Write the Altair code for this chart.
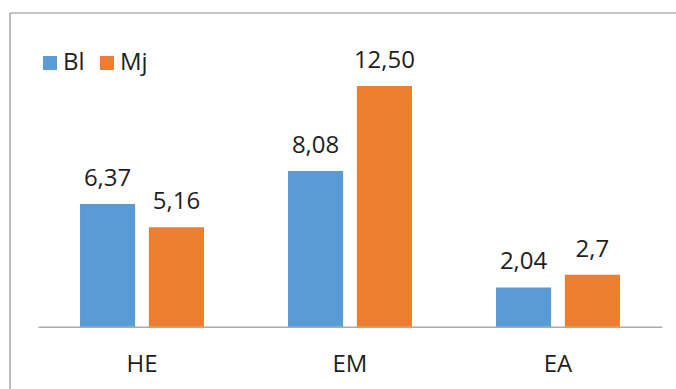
import altair as alt
import pandas as pd

categories = ["HE", "EM", "EA"]
series = ["Bl", "Mj"]
bl_values = [6.37, 8.08, 2.04]
mj_values = [5.16, 12.50, 2.70]
bl_labels = ["6,37", "8,08", "2,04"]
mj_labels = ["5,16", "12,50", "2,7"]
colors = ["#5B9BD5", "#ED7D31"]

rows = []
for c, v, l in zip(categories, bl_values, bl_labels):
    rows.append({"cat": c, "series": "Bl", "value": v, "label": l})
for c, v, l in zip(categories, mj_values, mj_labels):
    rows.append({"cat": c, "series": "Mj", "value": v, "label": l})
df = pd.DataFrame(rows)

FONT = "Open Sans"
FS = 24

x = alt.X("cat:N", sort=categories, title=None,
          scale=alt.Scale(paddingInner=0.404, paddingOuter=0.202),
          axis=alt.Axis(labelAngle=0, ticks=False, domainColor="#ABABAB", domainWidth=1.5,
                        labelFont=FONT, labelFontSize=FS, labelColor="#1E1E1E",
                        labelPadding=26, grid=False))
xo = alt.XOffset("series:N", sort=series, scale=alt.Scale(paddingInner=0.2, paddingOuter=0))
y = alt.Y("value:Q", scale=alt.Scale(domain=[0, 14]), axis=None)

base = alt.Chart(df).encode(x=x, xOffset=xo, y=y)

bars = base.mark_bar().encode(
    color=alt.Color("series:N", sort=series,
                    scale=alt.Scale(domain=series, range=colors),
                    legend=alt.Legend(title=None, orient="none", direction="horizontal",
                                      legendX=0, legendY=-6, symbolType="square",
                                      symbolSize=196, symbolStrokeWidth=0,
                                      labelFont=FONT, labelFontSize=FS, labelColor="#1E1E1E",
                                      labelOffset=1, columnPadding=10))
)

labels = base.mark_text(font=FONT, fontSize=FS, color="#1E1E1E", baseline="alphabetic", dy=-18).encode(
    text="label:N"
)

border_top = alt.Chart(alt.Data(values=[{}])).mark_rule(color="#8E8E8E", strokeWidth=1.2).encode(
    x=alt.value(-28), x2=alt.value(700), y=alt.value(-44)
)
border_left = alt.Chart(alt.Data(values=[{}])).mark_rule(color="#8E8E8E", strokeWidth=1.2).encode(
    x=alt.value(-28), y=alt.value(-44), y2=alt.value(400)
)

chart = alt.layer(bars, labels, border_top, border_left).properties(
    width=624, height=269.7,
    autosize=alt.AutoSizeParams(type="none"),
    padding={"left": 38, "top": 57, "right": 14, "bottom": 62},
    background="white",
).configure_view(strokeWidth=0)

chart.save("out.html", embed_options={"renderer": "svg", "actions": False})
